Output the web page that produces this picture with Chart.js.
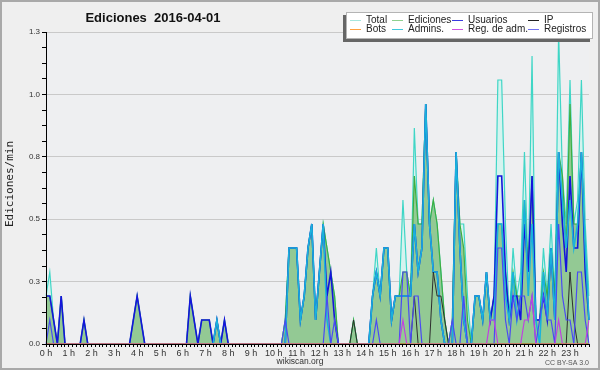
<!DOCTYPE html>
<html>
<head>
<meta charset="utf-8">
<script src="https://cdn.jsdelivr.net/npm/chart.js@4.4.0/dist/chart.umd.min.js"></script>
<style>
  html, body { margin: 0; padding: 0; background: #efefef; }
  #wrap { width: 600px; height: 370px; }
</style>
</head>
<body>
<div id="wrap"><canvas id="chart" width="600" height="370"></canvas></div>
<script>
// 10-minute slots, 144 per day
const hourLabels = ['0 h','1 h','2 h','3 h','4 h','5 h','6 h','7 h','8 h','9 h','10 h','11 h',
  '12 h','13 h','14 h','15 h','16 h','17 h','18 h','19 h','20 h','21 h','22 h','23 h'];
const slots = [];
hourLabels.forEach((h, k) => { for (let m = 0; m < 60; m += 10) slots.push(k + ':' + (m || '00')); });

const yTickValues = [0, 0.26, 0.52, 0.78, 1.04, 1.3];
const yTickLabels = ['0.0', '0.3', '0.5', '0.8', '1.0', '1.3'];

// edits per minute (rows of 12 slots = 2 h)
const total = [
  .2,.3,.1,0,.2,0,0,0,0,0,.1,0,
  0,0,0,0,0,0,0,0,0,0,0,.1,
  .2,.1,0,0,0,0,0,0,0,0,0,0,
  0,0,.2,.1,0,.1,.1,.1,0,.1,0,.1,
  0,0,0,0,0,0,0,0,0,0,0,0,
  0,0,0,.1,.4,.4,.4,.1,.2,.4,.5,.1,
  .3,.5,.4,.3,.2,0,0,0,0,.1,0,0,
  0,0,.2,.4,.2,.4,.4,.1,.2,.2,.6,.3,
  .2,.9,.5,.5,1.0,.5,.6,.5,.3,.1,0,.1,
  .8,.5,.5,.2,0,.2,.2,.1,.3,.1,.2,1.1,
  1.1,.5,.1,.4,.2,.3,.8,.3,1.2,.1,.1,.4,
  .2,.5,.2,1.3,.7,.5,1.1,.5,.6,1.1,.5,.2];
const ediciones = [
  .2,.2,.1,0,.2,0,0,0,0,0,.1,0,
  0,0,0,0,0,0,0,0,0,0,0,.1,
  .2,.1,0,0,0,0,0,0,0,0,0,0,
  0,0,.2,.1,0,.1,.1,.1,0,.1,0,.1,
  0,0,0,0,0,0,0,0,0,0,0,0,
  0,0,0,.1,.4,.4,.4,.1,.2,.4,.5,.1,
  .3,.5,.4,.3,.2,0,0,0,0,.1,0,0,
  0,0,.2,.3,.2,.4,.4,.1,.2,.2,.3,.3,
  .2,.7,.5,.5,1.0,.5,.6,.5,.3,.1,0,.1,
  .8,.5,.4,.1,0,.2,.2,.1,.3,.1,.2,.5,
  .5,.3,.1,.3,.2,.2,.6,.3,.7,.1,.1,.3,
  .2,.4,.2,.8,.7,.4,1.0,.5,.5,.8,.4,.1];
const usuarios = [
  .2,.2,.1,0,.2,0,0,0,0,0,.1,0,
  0,0,0,0,0,0,0,0,0,0,0,.1,
  .2,.1,0,0,0,0,0,0,0,0,0,0,
  0,0,.2,.1,0,.1,.1,.1,0,.1,0,.1,
  0,0,0,0,0,0,0,0,0,0,0,0,
  0,0,0,0,.4,.4,.4,.1,.2,.4,.5,.1,
  .3,.5,.2,.3,.1,0,0,0,0,0,0,0,
  0,0,.2,.3,.2,.4,.4,.1,.2,.2,.2,.2,
  .2,.5,.3,.4,1.0,.5,.3,.3,.1,0,0,0,
  .8,.4,.1,0,0,.2,.2,.1,.3,.1,.2,.7,
  .7,.3,.1,.2,.2,.1,.5,.3,.7,.1,.1,.2,
  .1,.4,.1,.8,.5,.3,.7,.4,.4,.8,.3,.1];
const ip = [
  0,0,0,0,0,0,0,0,0,0,0,0,
  0,0,0,0,0,0,0,0,0,0,0,0,
  0,0,0,0,0,0,0,0,0,0,0,0,
  0,0,0,0,0,0,0,0,0,0,0,0,
  0,0,0,0,0,0,0,0,0,0,0,0,
  0,0,0,0,0,0,0,0,0,0,0,0,
  0,0,0,0,0,0,0,0,0,.1,0,0,
  0,0,0,0,0,0,0,0,0,0,0,0,
  0,.2,0,0,0,0,.3,.2,.2,.1,0,0,
  0,0,0,0,0,0,0,0,0,0,0,0,
  0,0,0,0,0,0,0,0,0,0,0,0,
  0,0,0,0,0,0,.3,.1,0,0,0,0];
const bots = [
  0,0,0,0,0,0,0,0,0,0,0,0,
  0,0,0,0,0,0,0,0,0,0,0,0,
  0,0,0,0,0,0,0,0,0,0,0,0,
  0,0,0,0,0,0,0,0,0,0,0,0,
  0,0,0,0,0,0,0,0,0,0,0,0,
  0,0,0,0,0,0,0,0,0,0,0,0,
  0,0,0,0,0,0,0,0,0,0,0,0,
  0,0,0,0,0,0,0,0,0,0,0,0,
  0,0,0,0,0,0,0,0,0,0,0,0,
  0,0,0,0,0,0,0,0,0,0,0,0,
  0,0,0,0,0,0,0,0,0,0,0,0,
  0,0,0,0,0,0,0,0,0,0,0,0];
const admins = [
  0,0,0,0,0,0,0,0,0,0,0,0,
  0,0,0,0,0,0,0,0,0,0,0,0,
  0,0,0,0,0,0,0,0,0,0,0,0,
  0,0,0,0,0,0,0,0,0,.1,0,0,
  0,0,0,0,0,0,0,0,0,0,0,0,
  0,0,0,0,.4,.4,.4,.1,.2,.4,.5,.1,
  .3,.5,.1,0,0,0,0,0,0,0,0,0,
  0,0,.2,.3,.2,.4,.4,.1,.2,.2,.2,.2,
  .2,.5,.3,.4,1.0,.5,.3,.3,.1,0,0,0,
  .8,.4,.1,0,0,.2,.2,.1,.3,.1,.1,.5,
  .5,.2,.1,.3,.1,.2,.6,.2,.5,.1,0,.3,
  .1,.4,.1,.8,.6,.4,.6,.4,.5,.8,.4,.1];
const regAdm = [
  0,0,0,0,0,0,0,0,0,0,0,0,
  0,0,0,0,0,0,0,0,0,0,0,0,
  0,0,0,0,0,0,0,0,0,0,0,0,
  0,0,0,0,0,0,0,0,0,0,0,0,
  0,0,0,0,0,0,0,0,0,0,0,0,
  0,0,0,0,0,0,0,0,0,0,0,0,
  0,0,0,0,0,0,0,0,0,0,0,0,
  0,0,0,0,0,0,0,0,0,0,.1,0,
  0,0,0,0,0,0,0,0,0,0,0,0,
  0,0,0,0,0,0,0,0,0,.1,.1,0,
  0,0,0,0,0,0,.1,.1,.2,0,0,0,
  0,0,0,.1,0,0,0,0,0,0,0,.1];
const registros = [
  0,.1,0,0,0,0,0,0,0,0,0,0,
  0,0,0,0,0,0,0,0,0,0,0,0,
  0,0,0,0,0,0,0,0,0,0,0,0,
  0,0,0,0,0,0,0,0,0,0,0,0,
  0,0,0,0,0,0,0,0,0,0,0,0,
  0,0,0,.1,0,0,0,0,0,0,0,0,
  0,0,.2,0,.1,0,0,0,0,0,0,0,
  0,0,0,.1,0,0,0,0,0,0,.3,.3,
  0,.2,.2,0,0,0,0,0,0,0,0,.1,
  0,0,.2,0,0,0,0,0,0,0,0,.4,
  .4,.1,0,.2,.1,.2,.2,.1,.2,0,.1,.2,
  .1,.1,0,.5,.2,.1,.1,0,.3,.3,.1,0];

function line(label, data, color, width, order, extra) {
  return Object.assign({
    label, data, borderColor: color, borderWidth: width, order,
    pointRadius: 0, pointHoverRadius: 0, tension: 0, fill: false
  }, extra || {});
}

// legend order: row 1 then row 2
const datasets = [
  line('Total', total, '#3fd6c6', 1.2, 8, { fill: 'origin', backgroundColor: 'rgba(208,243,238,0.85)', legendColor: '#a6e6de' }),
  line('Ediciones', ediciones, '#3fae3f', 1.2, 7, { fill: 'origin', backgroundColor: '#93c994', legendColor: '#8fd08f' }),
  line('Usuarios', usuarios, '#1414dc', 1.6, 6, { legendColor: '#3a3ae0' }),
  line('IP', ip, '#2e2e2e', 1, 4, { legendColor: '#222' }),
  line('Bots', bots, '#ff9a30', 1, 1, { legendColor: '#ffa040' }),
  line('Admins.', admins, '#19b2dc', 1.6, 5, { legendColor: '#40c8dc' }),
  line('Reg. de adm.', regAdm, '#c040e0', 1.2, 2, { legendColor: '#d050e0' }),
  line('Registros', registros, '#4a4af4', 1.2, 3, { legendColor: '#7070f0' })
];

const legendCols = [350, 392, 452, 528];
const legendRows = [19.5, 29];

const decor = {
  id: 'decor',
  beforeDraw(chart) {
    const { ctx, chartArea: a } = chart;
    ctx.save();
    ctx.fillStyle = '#efefef';
    ctx.fillRect(0, 0, chart.width, chart.height);
    ctx.fillStyle = '#eeeff1';
    ctx.fillRect(a.left, a.top, a.right - a.left, a.bottom - a.top);
    ctx.restore();
  },
  afterDraw(chart) {
    const { ctx } = chart;
    ctx.save();
    // frame
    ctx.strokeStyle = '#a9a9a9';
    ctx.lineWidth = 2;
    ctx.strokeRect(1, 1, chart.width - 2, chart.height - 2);

    // title
    ctx.fillStyle = '#111';
    ctx.font = 'bold 13px "Liberation Sans"';
    ctx.textAlign = 'center';
    ctx.textBaseline = 'alphabetic';
    ctx.fillText('Ediciones  2016-04-01', 153, 22);

    // y title
    ctx.save();
    ctx.translate(13, 184);
    ctx.rotate(-Math.PI / 2);
    ctx.font = '11px "DejaVu Sans Mono"';
    ctx.fillStyle = '#222';
    ctx.fillText('Ediciones/min', 0, 0);
    ctx.restore();

    // footer
    ctx.fillStyle = '#333';
    ctx.font = '8.5px "Liberation Sans"';
    ctx.fillText('wikiscan.org', 300, 364);
    ctx.textAlign = 'right';
    ctx.font = '7px "Liberation Sans"';
    ctx.fillStyle = '#555';
    ctx.fillText('CC BY-SA 3.0', 589, 365);

    // legend box with shadow
    ctx.fillStyle = '#666';
    ctx.fillRect(343, 15, 247, 27);
    ctx.fillStyle = '#fff';
    ctx.fillRect(346, 12, 247, 27);
    ctx.strokeStyle = '#b4b4b4';
    ctx.lineWidth = 1;
    ctx.strokeRect(346.5, 12.5, 246, 26);

    ctx.textAlign = 'left';
    ctx.textBaseline = 'middle';
    ctx.font = '10px "Liberation Sans"';
    chart.data.datasets.forEach((ds, k) => {
      const x = legendCols[k % 4];
      const y = legendRows[Math.floor(k / 4)];
      ctx.strokeStyle = ds.legendColor;
      ctx.beginPath();
      ctx.moveTo(x, Math.round(y) + 0.5);
      ctx.lineTo(x + 11, Math.round(y) + 0.5);
      ctx.stroke();
      ctx.fillStyle = '#222';
      ctx.fillText(ds.label, x + 16, y + 0.5);
    });
    ctx.restore();
  }
};

new Chart(document.getElementById('chart'), {
  type: 'line',
  data: { labels: slots, datasets },
  options: {
    responsive: false,
    animation: false,
    devicePixelRatio: 1,
    layout: { padding: { left: 0, right: 11, top: 32, bottom: 0 } },
    plugins: {
      legend: { display: false },
      title: { display: false },
      tooltip: { enabled: false },
      filler: { drawTime: 'beforeDatasetsDraw' }
    },
    scales: {
      x: {
        type: 'category',
        offset: false,
        grid: { drawOnChartArea: false, tickLength: 3, tickColor: '#000', offset: false },
        border: { color: '#000', z: 1 },
        ticks: {
          autoSkip: false, maxRotation: 0, minRotation: 0, padding: 1,
          color: '#333', font: { family: 'Liberation Sans', size: 9 },
          callback: (v, i) => (i % 6 === 0 ? hourLabels[i / 6] : '')
        },
        afterFit: s => { s.height = 26; }
      },
      y: {
        min: 0,
        max: 1.3,
        grid: {
          color: c => (c.tick && c.tick.isMajor ? '#c9c9c9' : 'rgba(0,0,0,0)'),
          tickLength: 4, tickColor: '#000'
        },
        border: { color: '#000', z: 1 },
        ticks: {
          padding: 2, color: '#333', font: { family: 'Liberation Sans', size: 8 },
          callback: (v, i, ticks) => (ticks[i].isMajor ? ticks[i].text : '')
        },
        afterBuildTicks: scale => {
          const t = [];
          yTickValues.forEach((v, k) => {
            t.push({ value: v, isMajor: true, text: yTickLabels[k] });
            if (k < yTickValues.length - 1) {
              const step = (yTickValues[k + 1] - v) / 4;
              for (let m = 1; m < 4; m++) t.push({ value: v + step * m, isMajor: false });
            }
          });
          scale.ticks = t;
        },
        afterFit: s => { s.width = 46; }
      }
    }
  },
  plugins: [decor]
});
</script>
</body>
</html>
